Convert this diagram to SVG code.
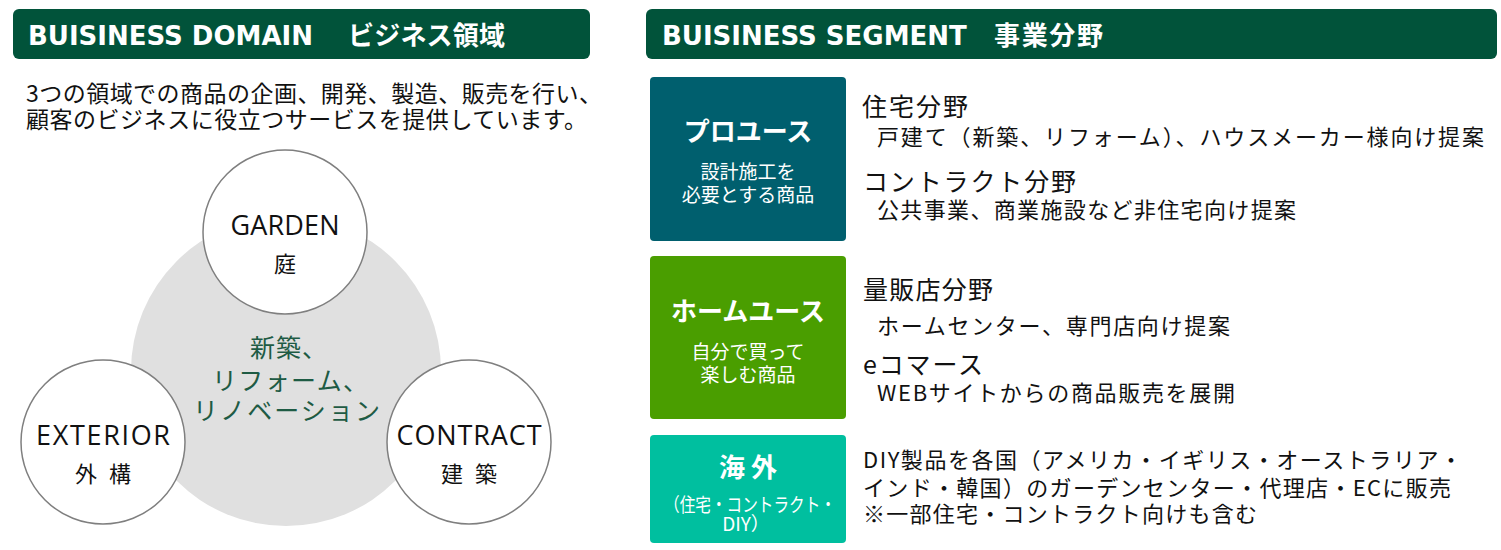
<svg xmlns="http://www.w3.org/2000/svg" width="1501" height="550" viewBox="0 0 1501 550">
<style>
.hdr{fill:#01533A}
.hl{font-family:"DejaVu Sans",sans-serif;font-weight:bold;font-size:26px;fill:#fff}
.hj{font-family:"Noto Sans CJK JP",sans-serif;font-weight:bold;font-size:26px;fill:#fff}
.jp{font-family:"Noto Sans CJK JP",sans-serif;fill:#111}
.lat{font-family:"Open Sans","Noto Sans",sans-serif;font-size:27px;fill:#111}
.ring{fill:#fff;stroke:#7F7F7F;stroke-width:1.5}
.ctr{font-family:"Noto Sans CJK JP",sans-serif;font-size:25px;fill:#1E5B44}
.bt{font-family:"Noto Sans CJK JP",sans-serif;font-weight:bold;font-size:26px;fill:#fff;text-anchor:middle}
.bs{font-family:"Noto Sans CJK JP",sans-serif;font-size:19px;fill:#fff;text-anchor:middle}
.h2{font-size:25px}
.b2{font-size:22px}
</style>

<g id="header-domain">
<rect class="hdr" x="13" y="9" width="577" height="50" rx="6"/>
<text class="hl" x="28" y="45">BUISINESS DOMAIN</text>
<text class="hj" x="348" y="45" textLength="157" lengthAdjust="spacing">ビジネス領域</text>
</g>

<g id="intro">
<text class="jp" x="26" y="102" font-size="23" textLength="576" lengthAdjust="spacing">3つの領域での商品の企画、開発、製造、販売を行い、</text>
<text class="jp" x="26" y="128" font-size="23" textLength="561" lengthAdjust="spacing">顧客のビジネスに役立つサービスを提供しています。</text>
</g>

<g id="domain-center">
<circle cx="286" cy="371" r="155" fill="#E0E0E0"/>
<text class="ctr" x="250" y="357" textLength="77" lengthAdjust="spacing">新築、</text>
<text class="ctr" x="212" y="390" textLength="156" lengthAdjust="spacing">リフォーム、</text>
<text class="ctr" x="193" y="420" textLength="187" lengthAdjust="spacing">リノベーション</text>
</g>

<g id="garden">
<circle class="ring" cx="285" cy="232" r="82"/>
<text class="lat" x="285" y="235" text-anchor="middle" textLength="109" lengthAdjust="spacing">GARDEN</text>
<text class="jp" x="285" y="272" font-size="22" text-anchor="middle">庭</text>
</g>

<g id="exterior">
<circle class="ring" cx="103" cy="442" r="82"/>
<text class="lat" x="103" y="445" text-anchor="middle" textLength="134" lengthAdjust="spacing">EXTERIOR</text>
<text class="jp" x="103" y="482" font-size="22" text-anchor="middle" textLength="56" lengthAdjust="spacing">外 構</text>
</g>

<g id="contract">
<circle class="ring" cx="469" cy="442" r="82"/>
<text class="lat" x="469" y="445" text-anchor="middle" textLength="145" lengthAdjust="spacing">CONTRACT</text>
<text class="jp" x="469" y="482" font-size="22" text-anchor="middle" textLength="56" lengthAdjust="spacing">建 築</text>
</g>

<g id="header-segment">
<rect class="hdr" x="646" y="9" width="851" height="50" rx="6"/>
<text class="hl" x="662" y="45">BUISINESS SEGMENT</text>
<text class="hj" x="994" y="45" textLength="109" lengthAdjust="spacing">事業分野</text>
</g>

<g id="pro-use">
<rect x="650" y="77" width="196" height="164" rx="4" fill="#005F6E"/>
<text class="bt" x="748" y="141">プロユース</text>
<text class="bs" x="748" y="179">設計施工を</text>
<text class="bs" x="748" y="202">必要とする商品</text>
<text class="jp h2" x="862" y="116" textLength="106" lengthAdjust="spacing">住宅分野</text>
<text class="jp b2" x="877" y="145" textLength="607" lengthAdjust="spacing">戸建て（新築、リフォーム）、ハウスメーカー様向け提案</text>
<text class="jp h2" x="863" y="191" textLength="213" lengthAdjust="spacing">コントラクト分野</text>
<text class="jp b2" x="877" y="218" textLength="419" lengthAdjust="spacing">公共事業、商業施設など非住宅向け提案</text>
</g>

<g id="home-use">
<rect x="650" y="256" width="196" height="163" rx="4" fill="#4A9E00"/>
<text class="bt" x="748" y="321">ホームユース</text>
<text class="bs" x="748" y="359">自分で買って</text>
<text class="bs" x="748" y="382">楽しむ商品</text>
<text class="jp h2" x="863" y="299" textLength="130" lengthAdjust="spacing">量販店分野</text>
<text class="jp b2" x="877" y="334" textLength="353" lengthAdjust="spacing">ホームセンター、専門店向け提案</text>
<text class="jp h2" x="863" y="374" textLength="120" lengthAdjust="spacing">eコマース</text>
<text class="jp b2" x="877" y="401" textLength="358" lengthAdjust="spacing">WEBサイトからの商品販売を展開</text>
</g>

<g id="overseas">
<rect x="650" y="435" width="196" height="108" rx="4" fill="#00BF9F"/>
<text class="bt" x="748" y="477">海 外</text>
<text class="bs" x="750" y="512" font-size="15.5" textLength="172" lengthAdjust="spacingAndGlyphs">（住宅・コントラクト・</text>
<text class="bs" x="746" y="531" font-size="17">DIY）</text>
<text class="jp b2" x="863" y="468" textLength="599" lengthAdjust="spacing">DIY製品を各国（アメリカ・イギリス・オーストラリア・</text>
<text class="jp b2" x="863" y="496" textLength="588" lengthAdjust="spacing">インド・韓国）のガーデンセンター・代理店・ECに販売</text>
<text class="jp b2" x="863" y="522" textLength="394" lengthAdjust="spacing">※一部住宅・コントラクト向けも含む</text>
</g>

<g id="connectors"></g>
</svg>
